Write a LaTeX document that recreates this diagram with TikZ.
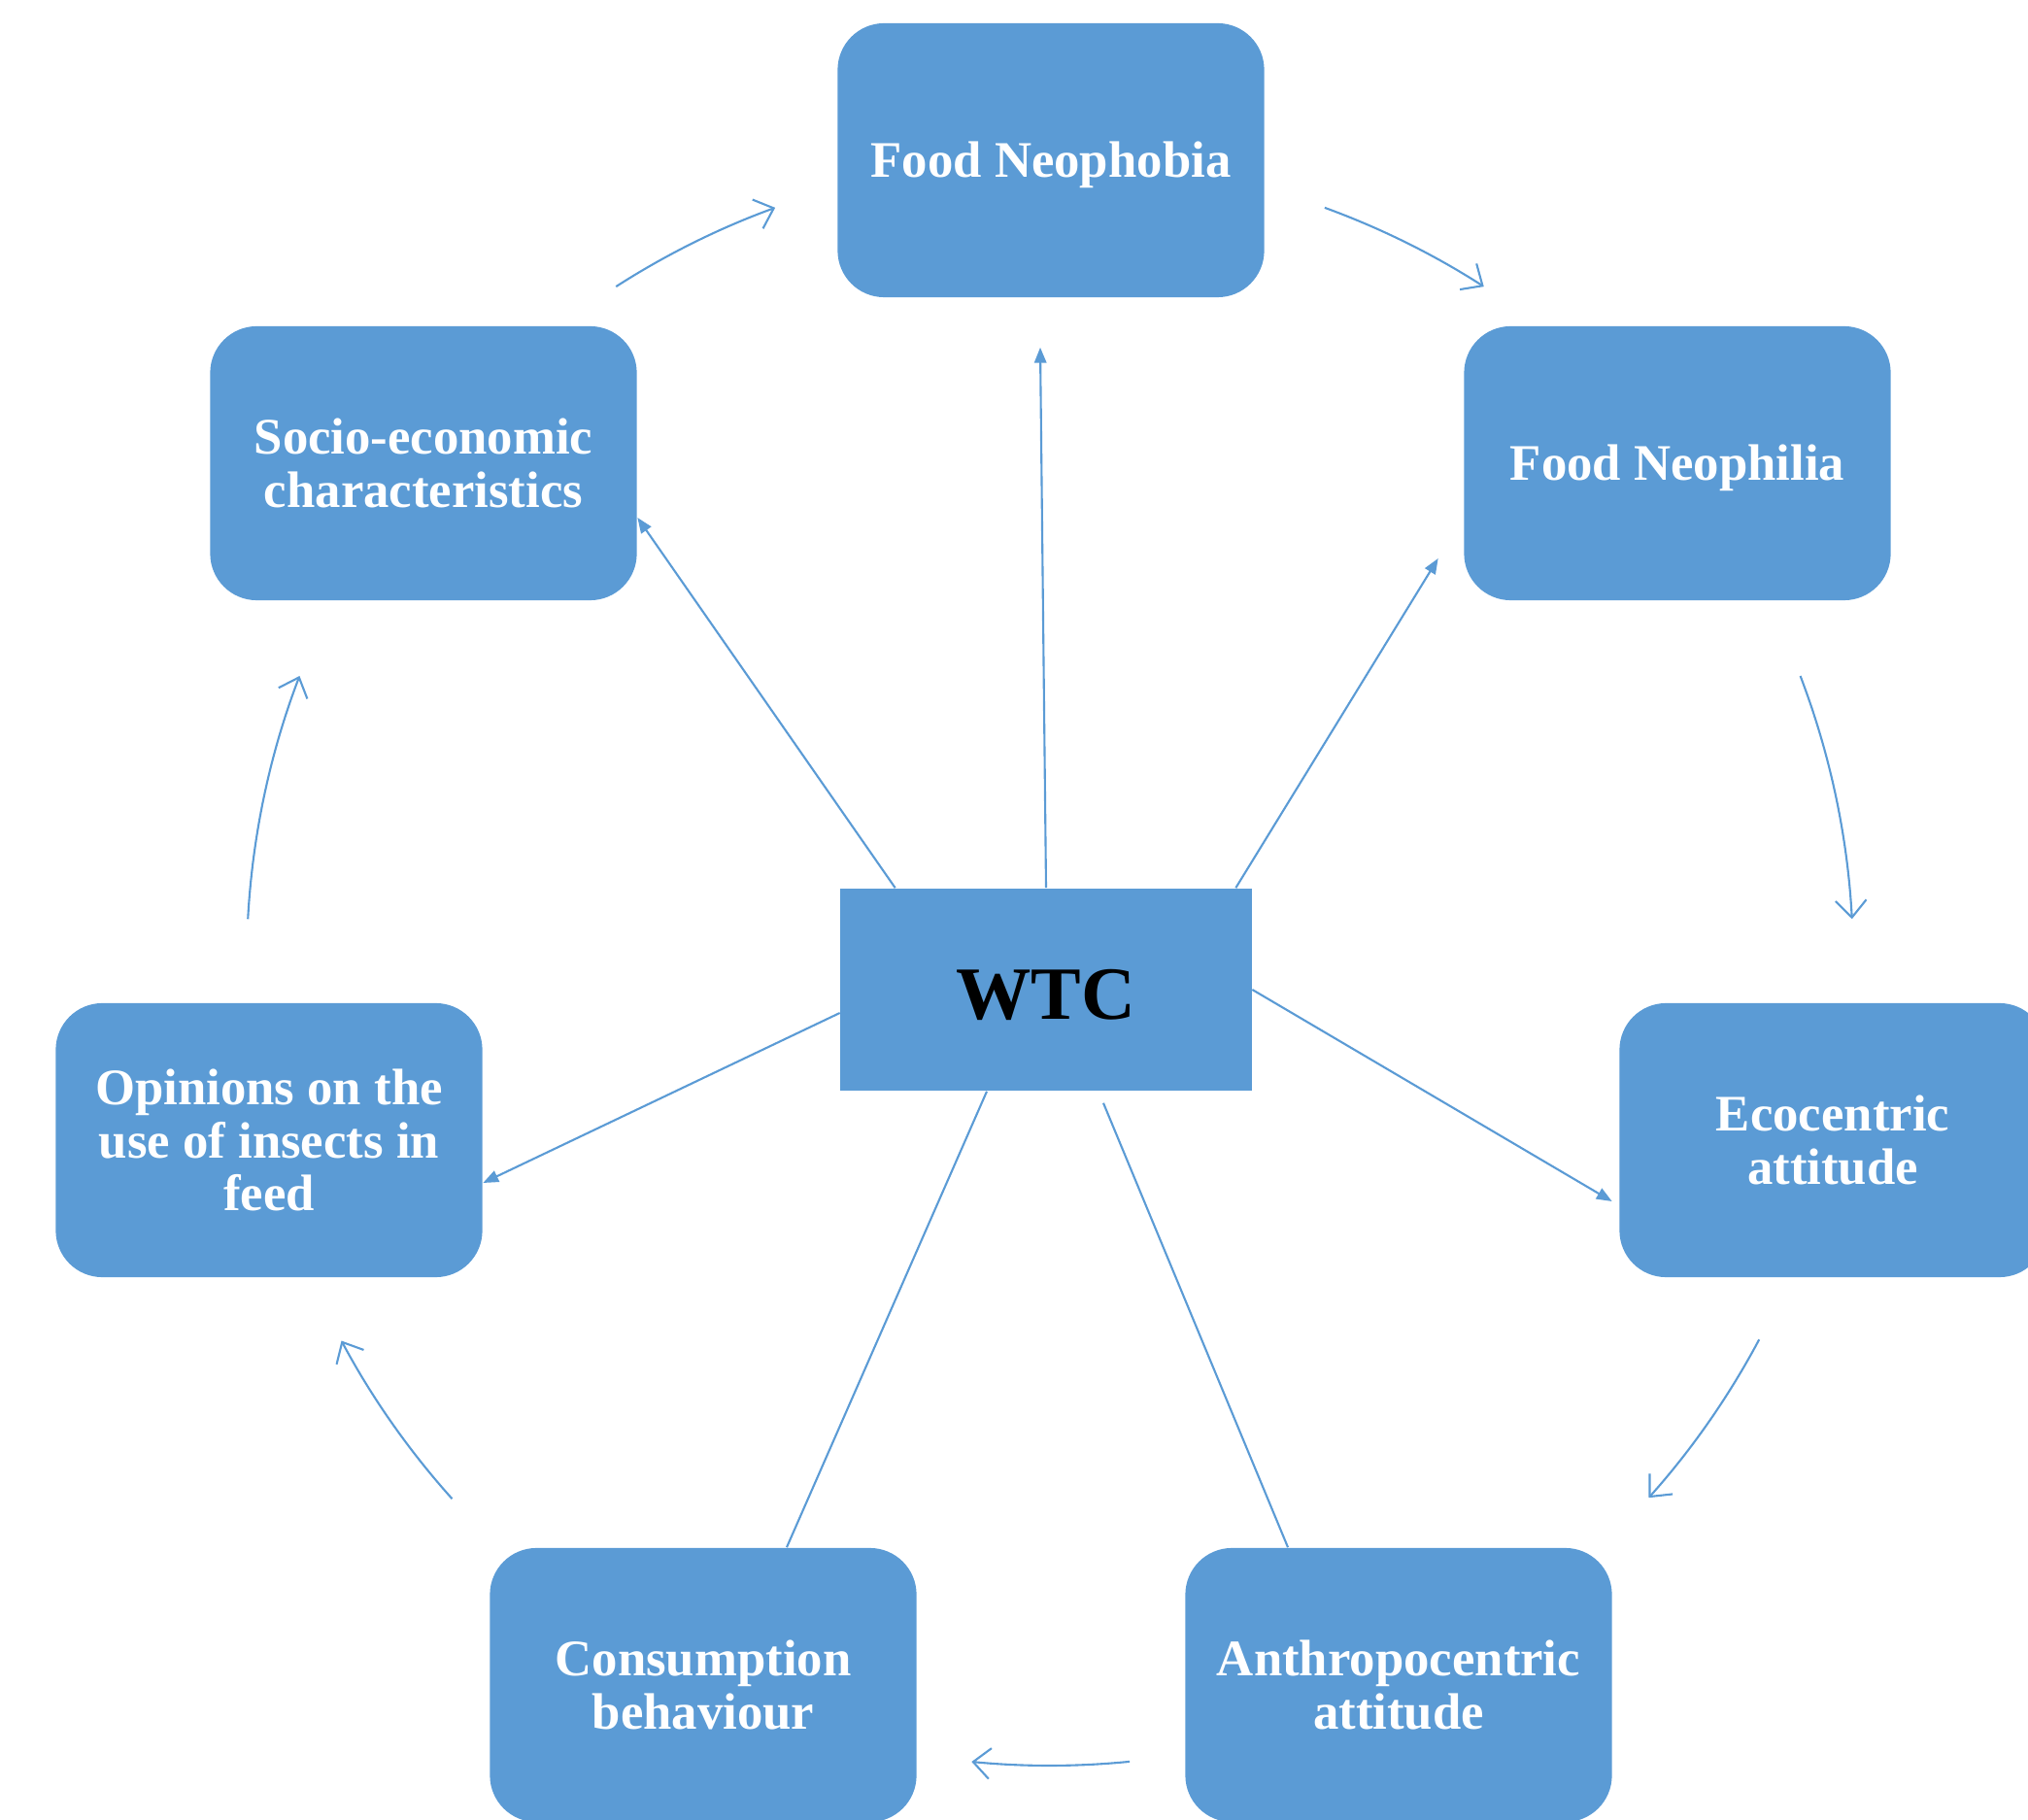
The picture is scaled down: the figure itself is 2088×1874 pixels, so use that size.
\documentclass[tikz,border=0pt]{standalone}
\usepackage{fontspec}
\setmainfont{Liberation Serif}
\usetikzlibrary{arrows.meta,calc}
\definecolor{boxblue}{HTML}{5B9BD5}
\begin{document}
\begin{tikzpicture}[x=0.01cm,y=-0.01cm,
  box/.style={fill=boxblue, rounded corners=0.48cm, minimum width=4.39cm, minimum height=2.82cm, inner sep=0pt, align=center, text=white, font=\fontsize{15}{15.6}\selectfont\bfseries},
  hub/.style={fill=boxblue, minimum width=4.23cm, minimum height=2.08cm, inner sep=0pt, text=black, font=\fontsize{22}{24}\selectfont\bfseries},
  spoke/.style={draw=boxblue, line width=0.6pt, -{Triangle[length=4.5pt,width=3.5pt]}},
  link/.style={draw=boxblue, line width=0.6pt},
  cyc/.style={draw=boxblue, line width=0.6pt, -{Straight Barb[length=5pt,width=9pt]}}]
\useasboundingbox (0,0) rectangle (2088,1874);
\clip (0,0) rectangle (2088,1874);

\node[box] (neophobia) at (1082,165) {\rule{0pt}{0.89em}Food Neophobia};
\node[box] (neophilia) at (1727,477) {\rule{0pt}{0.89em}Food Neophilia};
\node[box] (eco) at (1887,1174) {Ecocentric\\attitude};
\node[box] (anthro) at (1440,1735) {Anthropocentric\\attitude};
\node[box] (consum) at (724,1735) {Consumption\\behaviour};
\node[box] (opin) at (277,1174) {Opinions on the\\use of insects in\\feed};
\node[box] (socio) at (436,477) {Socio-economic\\characteristics};
\node[hub] (wtc) at (1077,1019) {\rule{0pt}{0.8em}WTC};

\coordinate (ring) at (1081,991);

% spokes
\draw[spoke] ($(wtc.north west)+(57,0)$) -- ($(socio.east)+(0,56)$);
\draw[spoke] (wtc.north) -- ($(neophobia.south)+(-11,51)$);
\draw[spoke] ($(wtc.north east)+(-17,0)$) -- ($(neophilia.west)+(-26,98)$);
\draw[spoke] (wtc.east) -- ($(eco.west)+(-7,63)$);
\draw[spoke] ($(wtc.west)+(0,24)$) -- ($(opin.east)+(0,44)$);
\draw[link] ($(wtc.south)+(-61,0)$) -- ($(consum.north)+(86,0)$);
\draw[link] ($(wtc.south)+(59,12)$) -- ($(anthro.north)+(-114,0)$);

% cycle arcs
\draw[cyc] ($(ring)+(-122.7:827)$) arc[start angle=-122.7, end angle=-110, radius=827];
\draw[cyc] ($(ring)+(-70:827)$) arc[start angle=-70, end angle=-57.3, radius=827];
\draw[cyc] ($(ring)+(-20.9:827)$) arc[start angle=-20.9, end angle=-3.1, radius=827];
\draw[cyc] ($(ring)+(28:827)$) arc[start angle=28, end angle=41.8, radius=827];
\draw[cyc] ($(ring)+(84.3:827)$) arc[start angle=84.3, end angle=95.6, radius=827];
\draw[cyc] ($(ring)+(138.1:827)$) arc[start angle=138.1, end angle=151.9, radius=827];
\draw[cyc] ($(ring)+(-176.9:827)$) arc[start angle=-176.9, end angle=-159.1, radius=827];
\end{tikzpicture}
\end{document}
